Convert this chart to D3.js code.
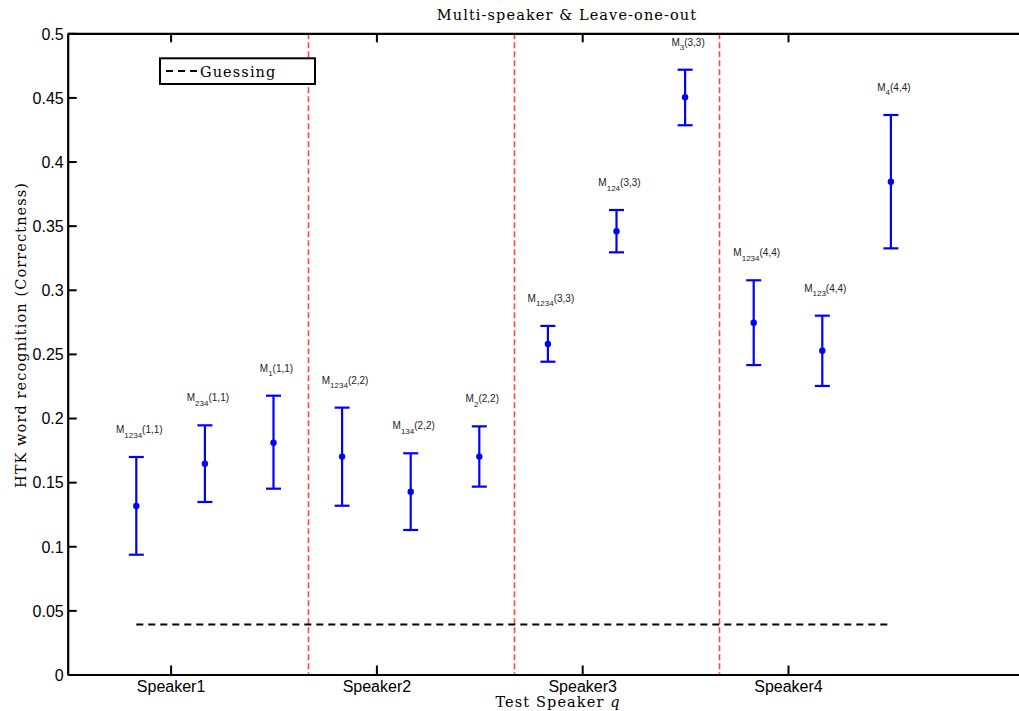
<!DOCTYPE html>
<html lang="en">
<head>
<meta charset="UTF-8">
<title>Multi-speaker & Leave-one-out</title>
<script src="https://cdn.jsdelivr.net/npm/d3@7"></script>
<style>
  body { margin: 0; background: #fff; }
  svg { display: block; }
</style>
</head>
<body>
<svg width="1019" height="711"></svg>
<script>
// data
const speakers = ["Speaker1", "Speaker2", "Speaker3", "Speaker4"];
const modelSubs = ["1234", "234", "1", "1234", "134", "2", "1234", "124", "3", "1234", "123", "4"];
const modelPairs = ["(1,1)", "(1,1)", "(1,1)", "(2,2)", "(2,2)", "(2,2)", "(3,3)", "(3,3)", "(3,3)", "(4,4)", "(4,4)", "(4,4)"];
const means = [0.1314, 0.1644, 0.1808, 0.1699, 0.1426, 0.1699, 0.2577, 0.3456, 0.4501, 0.2743, 0.2525, 0.3843];
const upper = [0.1696, 0.1943, 0.2174, 0.2081, 0.1725, 0.1935, 0.2718, 0.3622, 0.4716, 0.3074, 0.2798, 0.4363];
const lower = [0.0934, 0.1345, 0.1449, 0.1316, 0.1127, 0.1465, 0.2439, 0.3292, 0.4283, 0.2413, 0.2250, 0.3323];
const guessing = 0.039;
const yTicks = [0, 0.05, 0.1, 0.15, 0.2, 0.25, 0.3, 0.35, 0.4, 0.45, 0.5];

const svg = d3.select("svg");
const plotLeft = 67.7, plotTop = 33.3, plotBottom = 674.5, unit = 68.6, xMax = 14.4;
const plotRight = plotLeft + xMax * unit;

const x = d3.scaleLinear().domain([0, xMax]).range([plotLeft, plotRight]);
const y = d3.scaleLinear().domain([0, 0.5]).range([plotBottom, plotTop]);

const serif = "'DejaVu Serif', 'Liberation Serif', serif";
const sans = "'Liberation Sans', Arial, Helvetica, sans-serif";

const points = means.map((m, i) => ({
  pos: i + 1, mean: m, hi: upper[i], lo: lower[i], sub: modelSubs[i], pair: modelPairs[i]
}));
const speakerPos = speakers.map((s, i) => 3 * i + 1.5);
const separators = [1, 2, 3].map(i => 3 * i + 0.5);

// speaker separators (red dashed)
svg.append("g").selectAll("line").data(separators).join("line")
  .attr("x1", d => Math.round(x(d)) + 0.5).attr("x2", d => Math.round(x(d)) + 0.5)
  .attr("y1", y(0.5)).attr("y2", y(0))
  .attr("stroke", "#ff4747").attr("stroke-width", 1.6)
  .attr("stroke-dasharray", "6,3");

// guessing line
svg.append("line")
  .attr("x1", x(1)).attr("x2", x(12))
  .attr("y1", y(guessing)).attr("y2", y(guessing))
  .attr("stroke", "#000").attr("stroke-width", 2)
  .attr("stroke-dasharray", "7,5");

// axes
const gx = svg.append("g").attr("transform", `translate(0,${plotBottom})`)
  .call(d3.axisBottom(x).tickValues(speakerPos).tickFormat((d, i) => speakers[i])
    .tickSizeInner(-9).tickSizeOuter(0).tickPadding(3));
const gxTop = svg.append("g").attr("transform", `translate(0,${plotTop})`)
  .call(d3.axisTop(x).tickValues(speakerPos).tickFormat("")
    .tickSizeInner(-9).tickSizeOuter(0));
const gy = svg.append("g").attr("transform", `translate(${plotLeft},0)`)
  .call(d3.axisLeft(y).tickValues(yTicks).tickFormat(d => String(+d.toFixed(2)))
    .tickSizeInner(-9).tickSizeOuter(0).tickPadding(4));

[gx, gxTop, gy].forEach(g => {
  g.select(".domain").attr("stroke", "#000").attr("stroke-width", 2.2);
  g.selectAll(".tick line").attr("stroke", "#000").attr("stroke-width", 2);
  g.selectAll(".tick text").attr("fill", "#000")
    .style("font-family", sans).style("font-size", "16px");
});
gx.selectAll(".tick text").attr("dy", "0.9em");
gy.selectAll(".tick text").attr("dy", "0.36em");

// error bars
const bars = svg.append("g").selectAll("g").data(points).join("g");
bars.append("line")
  .attr("x1", d => x(d.pos)).attr("x2", d => x(d.pos))
  .attr("y1", d => y(d.hi)).attr("y2", d => y(d.lo))
  .attr("stroke", "#0000ff").attr("stroke-width", 2.2);
["hi", "lo"].forEach(k => {
  bars.append("line")
    .attr("x1", d => x(d.pos) - 7.5).attr("x2", d => x(d.pos) + 7.5)
    .attr("y1", d => y(d[k])).attr("y2", d => y(d[k]))
    .attr("stroke", "#0000ff").attr("stroke-width", 2.2);
});
bars.append("circle")
  .attr("cx", d => x(d.pos)).attr("cy", d => y(d.mean))
  .attr("r", 3.2).attr("fill", "#0000ff");

// model labels
const lab = bars.append("text")
  .attr("x", d => x(d.pos) + 3).attr("y", d => y(d.hi) - 24)
  .attr("text-anchor", "middle")
  .style("font-family", sans).style("font-size", "10px").attr("fill", "#222");
lab.append("tspan").text("M");
lab.append("tspan").attr("dy", 4.5).style("font-size", "8px").text(d => d.sub);
lab.append("tspan").attr("dy", -4.5).text(d => d.pair);

// title and axis labels
svg.append("text").attr("x", 567).attr("y", 20).attr("text-anchor", "middle")
  .style("font-family", serif).style("font-size", "14.5px").style("letter-spacing", "1.1px")
  .text("Multi-speaker & Leave-one-out");
const xl = svg.append("text").attr("x", 558).attr("y", 707).attr("text-anchor", "middle")
  .style("font-family", serif).style("font-size", "14.5px").style("letter-spacing", "1.1px");
xl.append("tspan").text("Test Speaker ");
xl.append("tspan").style("font-style", "italic").text("q");
svg.append("text").attr("transform", "translate(26,335) rotate(-90)").attr("text-anchor", "middle")
  .style("font-family", serif).style("font-size", "14.5px").style("letter-spacing", "1.1px")
  .text("HTK word recognition (Correctness)");

// legend
const leg = svg.append("g");
leg.append("rect").attr("x", 160).attr("y", 58.3).attr("width", 155).attr("height", 25.7)
  .attr("fill", "#fff").attr("stroke", "#000").attr("stroke-width", 2);
leg.append("line").attr("x1", 166).attr("x2", 198).attr("y1", 71).attr("y2", 71)
  .attr("stroke", "#000").attr("stroke-width", 2).attr("stroke-dasharray", "7,5");
leg.append("text").attr("x", 200).attr("y", 76.5)
  .style("font-family", serif).style("font-size", "14.5px").style("letter-spacing", "1.1px")
  .text("Guessing");
</script>
</body>
</html>
